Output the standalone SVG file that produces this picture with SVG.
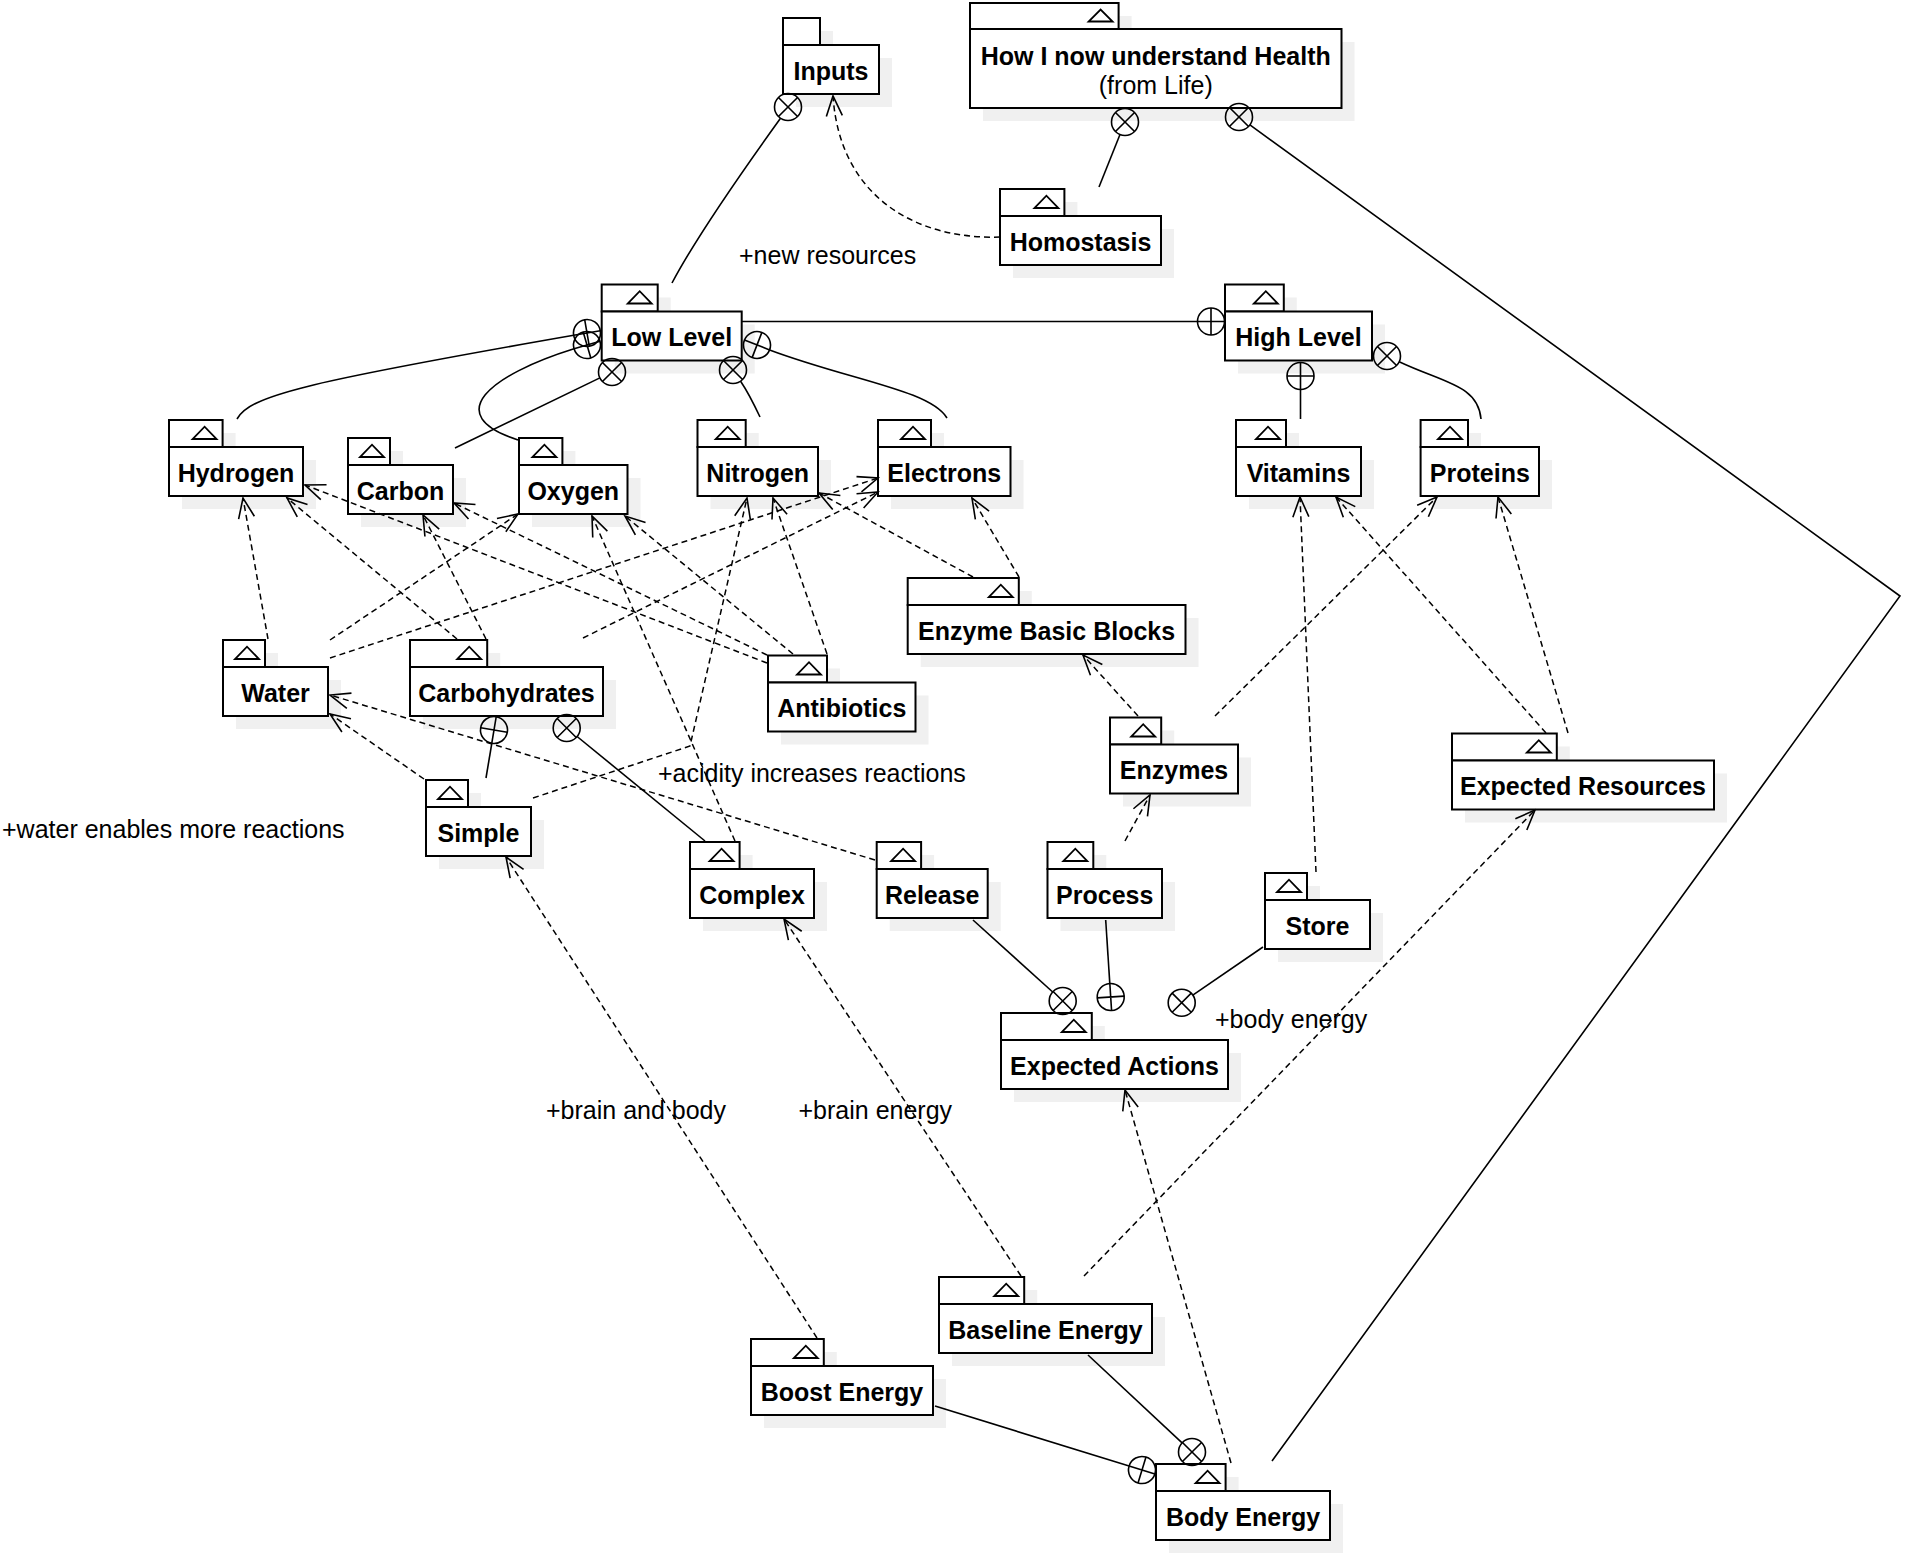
<svg xmlns="http://www.w3.org/2000/svg" width="1905" height="1554" viewBox="0 0 1905 1554">
<style>
.bg{fill:#fff}
.sh{fill:#f0f0f0;stroke:none}
.box{fill:#fff;stroke:#000;stroke-width:2}
.tri{fill:none;stroke:#000;stroke-width:1.8}
.lbl{font-family:"Liberation Sans",Arial,sans-serif;font-size:25px;font-weight:bold;text-anchor:middle;fill:#000}
.txt{font-family:"Liberation Sans",Arial,sans-serif;font-size:25px;fill:#000}
.con{fill:none;stroke:#000;stroke-width:1.6}
.dep{fill:none;stroke:#000;stroke-width:1.5;stroke-dasharray:6 4;marker-end:url(#arr)}
.sym{fill:none;stroke:#000;stroke-width:1.6}
</style>
<defs>
<marker id="arr" viewBox="-22 -10 24 20" refX="0" refY="0" markerWidth="24" markerHeight="20" orient="auto" markerUnits="userSpaceOnUse">
<path d="M-20,-8 L0,0 L-20,8" fill="none" stroke="#000" stroke-width="1.6" stroke-dasharray="none"/>
</marker>
<g id="oplus" class="sym"><circle r="13.5"/><path d="M-13.5,0H13.5M0,-13.5V13.5"/></g>
<g id="otimes" class="sym"><circle r="13.5"/><path d="M-9.55,-9.55L9.55,9.55M9.55,-9.55L-9.55,9.55"/></g>
</defs>
<rect class="bg" x="0" y="0" width="1905" height="1554"/>

<g id="node-inputs">
<rect class="sh" x="796" y="31" width="37" height="27"/><rect class="sh" x="796" y="58" width="96" height="49"/>
<rect class="box" x="783" y="18" width="37" height="27"/><rect class="box" x="783" y="45" width="96" height="49"/>
<text class="lbl" x="831" y="80">Inputs</text>
</g>
<g id="node-health">
<rect class="sh" x="983" y="16" width="148.6" height="26"/><rect class="sh" x="983" y="42" width="371.5" height="79"/>
<rect class="box" x="970" y="3" width="148.6" height="26"/><rect class="box" x="970" y="29" width="371.5" height="79"/>
<path class="tri" d="M1088.6,21.5 L1112.6,21.5 L1100.6,9.5 Z"/>
<text class="lbl" x="1155.75" y="65">How I now understand Health</text>
<text class="txt" x="1155.75" y="94" text-anchor="middle">(from Life)</text>
</g>
<g id="node-homostasis">
<rect class="sh" x="1013" y="202" width="64.4" height="27"/><rect class="sh" x="1013" y="229" width="161" height="49"/>
<rect class="box" x="1000" y="189" width="64.4" height="27"/><rect class="box" x="1000" y="216" width="161" height="49"/>
<path class="tri" d="M1034.4,208 L1058.4,208 L1046.4,195.7 Z"/>
<text class="lbl" x="1080.5" y="250.5">Homostasis</text>
</g>
<g id="node-lowlevel">
<rect class="sh" x="614.7" y="297.5" width="56" height="27"/><rect class="sh" x="614.7" y="324.5" width="140" height="49"/>
<rect class="box" x="601.7" y="284.5" width="56" height="27"/><rect class="box" x="601.7" y="311.5" width="140" height="49"/>
<path class="tri" d="M627.7,303.5 L651.7,303.5 L639.7,291.2 Z"/>
<text class="lbl" x="671.7" y="346">Low Level</text>
</g>
<g id="node-highlevel">
<rect class="sh" x="1238" y="297.5" width="58.8" height="27"/><rect class="sh" x="1238" y="324.5" width="147" height="49"/>
<rect class="box" x="1225" y="284.5" width="58.8" height="27"/><rect class="box" x="1225" y="311.5" width="147" height="49"/>
<path class="tri" d="M1253.8,303.5 L1277.8,303.5 L1265.8,291.2 Z"/>
<text class="lbl" x="1298.5" y="346">High Level</text>
</g>
<g id="node-hydrogen">
<rect class="sh" x="182" y="433" width="53.6" height="27"/><rect class="sh" x="182" y="460" width="134" height="49"/>
<rect class="box" x="169" y="420" width="53.6" height="27"/><rect class="box" x="169" y="447" width="134" height="49"/>
<path class="tri" d="M192.6,439 L216.6,439 L204.6,426.7 Z"/>
<text class="lbl" x="236" y="481.5">Hydrogen</text>
</g>
<g id="node-carbon">
<rect class="sh" x="361" y="451" width="42" height="27"/><rect class="sh" x="361" y="478" width="105" height="49"/>
<rect class="box" x="348" y="438" width="42" height="27"/><rect class="box" x="348" y="465" width="105" height="49"/>
<path class="tri" d="M360,457 L384,457 L372,444.7 Z"/>
<text class="lbl" x="400.5" y="499.5">Carbon</text>
</g>
<g id="node-oxygen">
<rect class="sh" x="532" y="451" width="43.4" height="27"/><rect class="sh" x="532" y="478" width="108.5" height="49"/>
<rect class="box" x="519" y="438" width="43.4" height="27"/><rect class="box" x="519" y="465" width="108.5" height="49"/>
<path class="tri" d="M532.4,457 L556.4,457 L544.4,444.7 Z"/>
<text class="lbl" x="573.25" y="499.5">Oxygen</text>
</g>
<g id="node-nitrogen">
<rect class="sh" x="710.5" y="433" width="48.2" height="27"/><rect class="sh" x="710.5" y="460" width="120.5" height="49"/>
<rect class="box" x="697.5" y="420" width="48.2" height="27"/><rect class="box" x="697.5" y="447" width="120.5" height="49"/>
<path class="tri" d="M715.7,439 L739.7,439 L727.7,426.7 Z"/>
<text class="lbl" x="757.75" y="481.5">Nitrogen</text>
</g>
<g id="node-electrons">
<rect class="sh" x="891" y="433" width="53" height="27"/><rect class="sh" x="891" y="460" width="132.5" height="49"/>
<rect class="box" x="878" y="420" width="53" height="27"/><rect class="box" x="878" y="447" width="132.5" height="49"/>
<path class="tri" d="M901,439 L925,439 L913,426.7 Z"/>
<text class="lbl" x="944.25" y="481.5">Electrons</text>
</g>
<g id="node-vitamins">
<rect class="sh" x="1249" y="433" width="50" height="27"/><rect class="sh" x="1249" y="460" width="125" height="49"/>
<rect class="box" x="1236" y="420" width="50" height="27"/><rect class="box" x="1236" y="447" width="125" height="49"/>
<path class="tri" d="M1256,439 L1280,439 L1268,426.7 Z"/>
<text class="lbl" x="1298.5" y="481.5">Vitamins</text>
</g>
<g id="node-proteins">
<rect class="sh" x="1433.6" y="433" width="47.4" height="27"/><rect class="sh" x="1433.6" y="460" width="118.4" height="49"/>
<rect class="box" x="1420.6" y="420" width="47.4" height="27"/><rect class="box" x="1420.6" y="447" width="118.4" height="49"/>
<path class="tri" d="M1438,439 L1462,439 L1450,426.7 Z"/>
<text class="lbl" x="1479.8" y="481.5">Proteins</text>
</g>
<g id="node-water">
<rect class="sh" x="236" y="653" width="42" height="27"/><rect class="sh" x="236" y="680" width="105" height="49"/>
<rect class="box" x="223" y="640" width="42" height="27"/><rect class="box" x="223" y="667" width="105" height="49"/>
<path class="tri" d="M235,659 L259,659 L247,646.7 Z"/>
<text class="lbl" x="275.5" y="701.5">Water</text>
</g>
<g id="node-carbohydrates">
<rect class="sh" x="423" y="653" width="77.2" height="27"/><rect class="sh" x="423" y="680" width="193" height="49"/>
<rect class="box" x="410" y="640" width="77.2" height="27"/><rect class="box" x="410" y="667" width="193" height="49"/>
<path class="tri" d="M457.2,659 L481.2,659 L469.2,646.7 Z"/>
<text class="lbl" x="506.5" y="701.5">Carbohydrates</text>
</g>
<g id="node-simple">
<rect class="sh" x="439" y="793" width="42" height="27"/><rect class="sh" x="439" y="820" width="105" height="49"/>
<rect class="box" x="426" y="780" width="42" height="27"/><rect class="box" x="426" y="807" width="105" height="49"/>
<path class="tri" d="M438,799 L462,799 L450,786.7 Z"/>
<text class="lbl" x="478.5" y="841.5">Simple</text>
</g>
<g id="node-antibiotics">
<rect class="sh" x="781" y="668.5" width="59" height="27"/><rect class="sh" x="781" y="695.5" width="147.5" height="49"/>
<rect class="box" x="768" y="655.5" width="59" height="27"/><rect class="box" x="768" y="682.5" width="147.5" height="49"/>
<path class="tri" d="M797,674.5 L821,674.5 L809,662.2 Z"/>
<text class="lbl" x="841.75" y="717">Antibiotics</text>
</g>
<g id="node-enzymebasicblocks">
<rect class="sh" x="920.7" y="591" width="111.1" height="27"/><rect class="sh" x="920.7" y="618" width="277.8" height="49"/>
<rect class="box" x="907.7" y="578" width="111.1" height="27"/><rect class="box" x="907.7" y="605" width="277.8" height="49"/>
<path class="tri" d="M988.8,597 L1012.8,597 L1000.8,584.7 Z"/>
<text class="lbl" x="1046.6" y="639.5">Enzyme Basic Blocks</text>
</g>
<g id="node-enzymes">
<rect class="sh" x="1123" y="730.5" width="51.2" height="27"/><rect class="sh" x="1123" y="757.5" width="128" height="49"/>
<rect class="box" x="1110" y="717.5" width="51.2" height="27"/><rect class="box" x="1110" y="744.5" width="128" height="49"/>
<path class="tri" d="M1131.2,736.5 L1155.2,736.5 L1143.2,724.2 Z"/>
<text class="lbl" x="1174" y="779">Enzymes</text>
</g>
<g id="node-expectedresources">
<rect class="sh" x="1465" y="746.5" width="104.8" height="27"/><rect class="sh" x="1465" y="773.5" width="262" height="49"/>
<rect class="box" x="1452" y="733.5" width="104.8" height="27"/><rect class="box" x="1452" y="760.5" width="262" height="49"/>
<path class="tri" d="M1526.8,752.5 L1550.8,752.5 L1538.8,740.2 Z"/>
<text class="lbl" x="1583" y="795">Expected Resources</text>
</g>
<g id="node-complex">
<rect class="sh" x="703" y="855" width="49.6" height="27"/><rect class="sh" x="703" y="882" width="124" height="49"/>
<rect class="box" x="690" y="842" width="49.6" height="27"/><rect class="box" x="690" y="869" width="124" height="49"/>
<path class="tri" d="M709.6,861 L733.6,861 L721.6,848.7 Z"/>
<text class="lbl" x="752" y="903.5">Complex</text>
</g>
<g id="node-release">
<rect class="sh" x="889.7" y="855" width="44.4" height="27"/><rect class="sh" x="889.7" y="882" width="111" height="49"/>
<rect class="box" x="876.7" y="842" width="44.4" height="27"/><rect class="box" x="876.7" y="869" width="111" height="49"/>
<path class="tri" d="M891.1,861 L915.1,861 L903.1,848.7 Z"/>
<text class="lbl" x="932.2" y="903.5">Release</text>
</g>
<g id="node-process">
<rect class="sh" x="1060.5" y="855" width="45.8" height="27"/><rect class="sh" x="1060.5" y="882" width="114.5" height="49"/>
<rect class="box" x="1047.5" y="842" width="45.8" height="27"/><rect class="box" x="1047.5" y="869" width="114.5" height="49"/>
<path class="tri" d="M1063.3,861 L1087.3,861 L1075.3,848.7 Z"/>
<text class="lbl" x="1104.75" y="903.5">Process</text>
</g>
<g id="node-store">
<rect class="sh" x="1278" y="886" width="42" height="27"/><rect class="sh" x="1278" y="913" width="105" height="49"/>
<rect class="box" x="1265" y="873" width="42" height="27"/><rect class="box" x="1265" y="900" width="105" height="49"/>
<path class="tri" d="M1277,892 L1301,892 L1289,879.7 Z"/>
<text class="lbl" x="1317.5" y="934.5">Store</text>
</g>
<g id="node-expectedactions">
<rect class="sh" x="1014" y="1026" width="90.8" height="27"/><rect class="sh" x="1014" y="1053" width="227" height="49"/>
<rect class="box" x="1001" y="1013" width="90.8" height="27"/><rect class="box" x="1001" y="1040" width="227" height="49"/>
<path class="tri" d="M1061.8,1032 L1085.8,1032 L1073.8,1019.7 Z"/>
<text class="lbl" x="1114.5" y="1074.5">Expected Actions</text>
</g>
<g id="node-baselineenergy">
<rect class="sh" x="952" y="1290" width="85.2" height="27"/><rect class="sh" x="952" y="1317" width="213" height="49"/>
<rect class="box" x="939" y="1277" width="85.2" height="27"/><rect class="box" x="939" y="1304" width="213" height="49"/>
<path class="tri" d="M994.2,1296 L1018.2,1296 L1006.2,1283.7 Z"/>
<text class="lbl" x="1045.5" y="1338.5">Baseline Energy</text>
</g>
<g id="node-boostenergy">
<rect class="sh" x="764" y="1352" width="72.8" height="27"/><rect class="sh" x="764" y="1379" width="182" height="49"/>
<rect class="box" x="751" y="1339" width="72.8" height="27"/><rect class="box" x="751" y="1366" width="182" height="49"/>
<path class="tri" d="M793.8,1358 L817.8,1358 L805.8,1345.7 Z"/>
<text class="lbl" x="842" y="1400.5">Boost Energy</text>
</g>
<g id="node-bodyenergy">
<rect class="sh" x="1169" y="1477" width="69.6" height="27"/><rect class="sh" x="1169" y="1504" width="174" height="49"/>
<rect class="box" x="1156" y="1464" width="69.6" height="27"/><rect class="box" x="1156" y="1491" width="174" height="49"/>
<path class="tri" d="M1195.6,1483 L1219.6,1483 L1207.6,1470.7 Z"/>
<text class="lbl" x="1243" y="1525.5">Body Energy</text>
</g>

<g id="connectors">
<path class="con" d="M780.5,118.2 Q700,230 672,283"/>
<path class="con" d="M1120,134.5 L1099,187"/>
<path class="con" d="M1249.9,124.9 L1900,596 L1272,1461"/>
<path class="con" d="M237,419 C250,396 300,383 573.7,335.3"/>
<path class="con" d="M518,440 C440,415 490,375 574,348.8"/>
<path class="con" d="M455,448 L599.9,377.9"/>
<path class="con" d="M760,417 Q749,393.6 740.6,381.2"/>
<path class="con" d="M769.6,349.9 C850,380 930,390 947,418"/>
<path class="con" d="M742,321.5 L1197.5,321.5"/>
<path class="con" d="M1300.5,389.5 L1300.5,419"/>
<path class="con" d="M1399.2,361.8 C1444,383 1478,385 1481,419"/>
<path class="con" d="M491.8,743.3 L486,778"/>
<path class="con" d="M577.1,736.5 L705,841"/>
<path class="con" d="M973,920 L1052.7,992"/>
<path class="con" d="M1105.7,920 L1109.8,983.5"/>
<path class="con" d="M1263,947 L1192.8,995.1"/>
<path class="con" d="M1088,1355 L1182.1,1442.8"/>
<path class="con" d="M935,1406 L1129.1,1466"/>

<use href="#otimes" transform="translate(788,107)"/>
<use href="#otimes" transform="translate(1125,122)"/>
<use href="#otimes" transform="translate(1239,117)"/>
<use href="#oplus" transform="translate(587,333) rotate(170.1)"/>
<use href="#oplus" transform="translate(587,345) rotate(163.6)"/>
<use href="#otimes" transform="translate(612,372)"/>
<use href="#otimes" transform="translate(733,370)"/>
<use href="#oplus" transform="translate(757,345) rotate(21.2)"/>
<use href="#oplus" transform="translate(1211,321.5)"/>
<use href="#oplus" transform="translate(1300.5,376) rotate(90)"/>
<use href="#otimes" transform="translate(1387,356)"/>
<use href="#oplus" transform="translate(494,730) rotate(99.5)"/>
<use href="#otimes" transform="translate(566.7,728)"/>
<use href="#otimes" transform="translate(1062.7,1001)"/>
<use href="#oplus" transform="translate(1110.7,997) rotate(-93.7)"/>
<use href="#otimes" transform="translate(1181.7,1002.7)"/>
<use href="#otimes" transform="translate(1192,1452)"/>
<use href="#oplus" transform="translate(1142,1470) rotate(-162.8)"/>

<path class="dep" d="M1000,237 C920,240 840,200 833,96"/>
<path class="dep" d="M268,639 L243,498"/>
<path class="dep" d="M330,640 L518,514"/>
<path class="dep" d="M330,658 L878,478"/>
<path class="dep" d="M457,639 L287,498"/>
<path class="dep" d="M486,639 L423,515"/>
<path class="dep" d="M583,638 L878,492"/>
<path class="dep" d="M767,663 L305,485"/>
<path class="dep" d="M767,655 L454,503"/>
<path class="dep" d="M793,654 L625,516"/>
<path class="dep" d="M827,654 L773,498"/>
<path class="dep" d="M735,841 L592,516"/>
<path class="dep" d="M533,798 L690,746 L747,498"/>
<path class="dep" d="M875,860 L330,695"/>
<path class="dep" d="M424,779 L330,714"/>
<path class="dep" d="M973,577 L819,493"/>
<path class="dep" d="M1019,577 L972,498"/>
<path class="dep" d="M1138,716 L1083,655"/>
<path class="dep" d="M1125,841 L1150,795"/>
<path class="dep" d="M1215,716 L1437,497"/>
<path class="dep" d="M1316,872 L1300,497"/>
<path class="dep" d="M1546,733 L1336,497"/>
<path class="dep" d="M1568,733 L1498,497"/>
<path class="dep" d="M1084,1276 L1535,810"/>
<path class="dep" d="M1021,1276 L784,919"/>
<path class="dep" d="M817,1338 L506,857"/>
<path class="dep" d="M1231,1463 L1125,1090"/>
</g>

<g id="labels">
<text class="txt" x="739" y="264">+new resources</text>
<text class="txt" x="2" y="838">+water enables more reactions</text>
<text class="txt" x="658" y="782">+acidity increases reactions</text>
<text class="txt" x="546" y="1119">+brain and body</text>
<text class="txt" x="798.5" y="1119">+brain energy</text>
<text class="txt" x="1215" y="1028">+body energy</text>
</g>
</svg>
